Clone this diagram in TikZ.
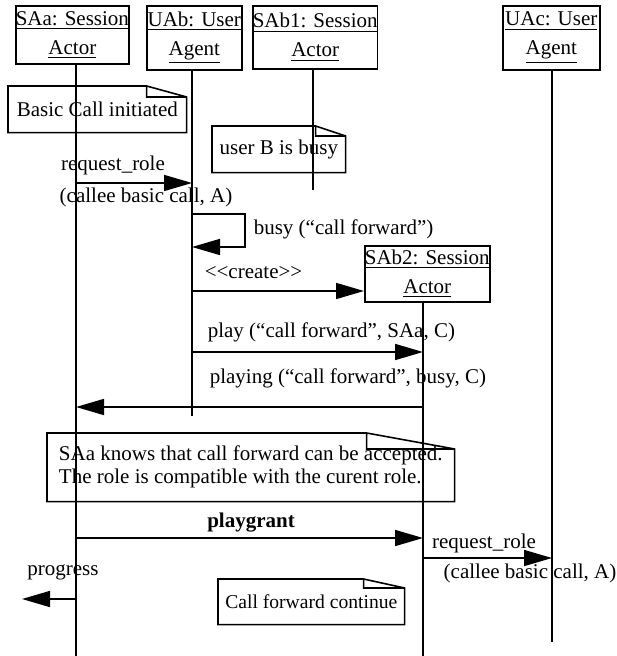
\documentclass[tikz,border=0pt]{standalone}
\usepackage{fontspec}
\setmainfont{Liberation Serif}[Ligatures=TeXOff]
\usetikzlibrary{arrows.meta,positioning,calc}

\begin{document}
\begin{tikzpicture}[x=0.5pt, y=-0.5pt, line width=0.8pt,
    font=\fontsize{10.5}{12.5}\selectfont,
    >={Triangle[length=14pt,width=8pt]},
    object/.style={draw, anchor=north west, align=center, inner sep=0pt,
        font=\fontsize{10.5}{14.5}\selectfont},
    msg/.style={->},
    txt/.style={inner sep=0pt},
    note/.style 2 args={anchor=north west, inner sep=0pt, align=center,
        append after command={\pgfextra{
            \draw (\tikzlastnode.south west) -- (\tikzlastnode.north west)
              -- ([xshift=-#1]\tikzlastnode.north east)
              -- ([yshift=-#2]\tikzlastnode.north east)
              -- (\tikzlastnode.south east) -- cycle
              ([xshift=-#1]\tikzlastnode.north east)
              |- ([yshift=-#2]\tikzlastnode.north east);}}}
  ]

  \useasboundingbox (0,0) rectangle (616,656);

  % objects
  \node[object, minimum width=56pt, minimum height=29pt] (SAa) at (15,5)
    {\underline{SAa: Session}\\\underline{Actor}};
  \node[object, minimum width=47.5pt, minimum height=32pt] (UAb) at (146,5)
    {\underline{UAb: User}\\\underline{Agent}};
  \node[object, minimum width=62pt, minimum height=31.5pt] (SAb1) at (252,5)
    {\underline{SAb1: Session}\\\underline{Actor}};
  \node[object, minimum width=48.5pt, minimum height=32pt] (UAc) at (502,5)
    {\underline{UAc: User}\\\underline{Agent}};
  \node[object, minimum width=62.5pt, minimum height=28pt] (SAb2) at (364,245)
    {\underline{SAb2: Session}\\\underline{Actor}};

  % lifelines
  \coordinate (SAa-bot) at (76,656);
  \coordinate (UAb-bot) at (192,416);
  \coordinate (SAb1-bot) at (313,190);
  \coordinate (UAc-bot) at (552,642);
  \coordinate (SAb2-bot) at (423,656);
  \draw (SAa.south -| SAa-bot) -- (SAa-bot);
  \draw (UAb.south -| UAb-bot) -- (UAb-bot);
  \draw (SAb1.south -| SAb1-bot) -- (SAb1-bot);
  \draw (UAc.south -| UAc-bot) -- (UAc-bot);
  \draw (SAb2.south -| SAb2-bot) -- (SAb2-bot);

  % notes
  \node[note={20pt}{5.5pt}, minimum width=88.5pt, minimum height=22.5pt]
    (nbasic) at (8,86) {Basic Call initiated};
  \node[note={15pt}{5pt}, minimum width=66pt, minimum height=22.5pt]
    (nbusy) at (212,126) {user B is busy};
  \node[note={44pt}{8pt}, minimum width=203pt, minimum height=33.5pt,
    align=left, font=\fontsize{10.5}{11.5}\selectfont] (naccept) at (47,433)
    {SAa knows that call forward can be accepted.\\
     The role is compatible with the curent role.};
  \node[note={20.5pt}{4.5pt}, minimum width=92.5pt, minimum height=22pt,
    font=\fontsize{9.8}{12}\selectfont] (ncont) at (218,579)
    {Call forward continue};

  % messages
  \node[txt] (lreq1) at (113,165) {request\_role};
  \draw[msg] (SAa-bot |- 0,183) -- (UAb-bot |- 0,183);
  \node[txt] (lcallee1) at (146,197) {(callee basic call, A)};

  \draw[msg] (UAb-bot |- 0,214) -- ++(53,0) |- (UAb-bot |- 0,247);
  \node[txt, anchor=west] (lbusy) at (253,229) {busy (“call forward”)};

  \node[txt, anchor=west] (lcreate) at (204,273) {<<create>>};
  \draw[msg] (UAb-bot |- 0,291) -- (SAb2.west |- 0,291);

  \node[txt, anchor=west] (lplay) at (207,332) {play (“call forward”, SAa, C)};
  \draw[msg] (UAb-bot |- 0,352) -- (SAb2-bot |- 0,352);

  \node[txt, anchor=west] (lplaying) at (209,378)
    {playing (“call forward”, busy, C)};
  \draw[msg] (SAb2-bot |- 0,407) -- (SAa-bot |- 0,407);

  \node[txt] (lgrant) at (251,523) {\bfseries playgrant};
  \draw[msg] (SAa-bot |- 0,538) -- (SAb2-bot |- 0,538);

  \node[txt] (lreq2) at (484,543) {request\_role};
  \draw[msg] (SAb2-bot |- 0,558) -- (UAc-bot |- 0,558);
  \node[txt] (lcallee2) at (530,573) {(callee basic call, A)};

  \coordinate (prog-end) at (22,599);
  \node[txt] (lprog) at (63,572) {progress};
  \draw[msg] (SAa-bot |- prog-end) -- (prog-end);

\end{tikzpicture}
\end{document}
